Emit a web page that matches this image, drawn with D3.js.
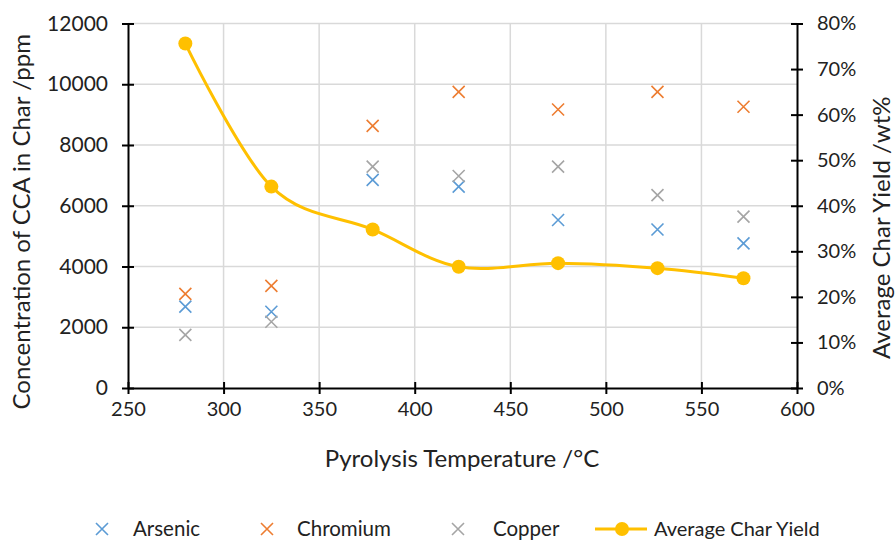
<!DOCTYPE html>
<html>
<head>
<meta charset="utf-8">
<script src="https://d3js.org/d3.v7.min.js"></script>
<style>
  body { margin: 0; background: #fff; }
  text { font-family: Lato, "Noto Sans", sans-serif; fill: #222; }
</style>
</head>
<body>
<script>
  // data
  var temps    = [280, 325, 378, 423, 475, 527, 572];
  var arsenic  = [2680, 2510, 6850, 6630, 5530, 5220, 4760];
  var chromium = [3100, 3360, 8630, 9750, 9170, 9750, 9260];
  var copper   = [1750, 2180, 7290, 6980, 7290, 6350, 5640];
  var charYield = [0.756, 0.442, 0.348, 0.266, 0.274, 0.263, 0.241];

  var xTicks = [250, 300, 350, 400, 450, 500, 550, 600];
  var yTicks = [0, 2000, 4000, 6000, 8000, 10000, 12000];
  var y2Ticks = [0, 0.1, 0.2, 0.3, 0.4, 0.5, 0.6, 0.7, 0.8];

  var width = 896, height = 540;
  var mLeft = 128, mRight = 797, mTop = 23.5, mBottom = 388;

  var svg = d3.select("body").append("svg")
    .attr("width", width)
    .attr("height", height);

  var x = d3.scaleLinear().domain([250, 600]).range([mLeft, mRight]);
  var y = d3.scaleLinear().domain([0, 12000]).range([mBottom, mTop]);
  var y2 = d3.scaleLinear().domain([0, 0.8]).range([mBottom, mTop]);

  // gridlines
  svg.append("g").selectAll("line")
    .data(yTicks.slice(1))
    .enter().append("line")
      .attr("x1", mLeft).attr("x2", mRight)
      .attr("y1", function(d){ return y(d); })
      .attr("y2", function(d){ return y(d); })
      .attr("stroke", "#d9d9d9").attr("stroke-width", 1.5);
  svg.append("g").selectAll("line")
    .data(xTicks.slice(1, -1))
    .enter().append("line")
      .attr("y1", mTop).attr("y2", mBottom)
      .attr("x1", function(d){ return x(d); })
      .attr("x2", function(d){ return x(d); })
      .attr("stroke", "#d9d9d9").attr("stroke-width", 1.5);

  // axes
  function styleAxis(g, fs) {
    g.selectAll("path").attr("stroke", "#000").attr("stroke-width", 2);
    g.selectAll("line").attr("stroke", "#000").attr("stroke-width", 2);
    g.selectAll("text").attr("font-size", fs).attr("fill", "#222")
      .style("font-family", "Lato, 'Noto Sans', sans-serif");
  }

  var xAxis = svg.append("g")
    .attr("transform", "translate(0," + mBottom + ")")
    .call(d3.axisBottom(x).tickValues(xTicks).tickSize(6).tickSizeOuter(0).tickPadding(8));
  styleAxis(xAxis, 20);
  xAxis.selectAll(".tick line").attr("y1", -6);

  var yAxis = svg.append("g")
    .attr("transform", "translate(" + mLeft + ",0)")
    .call(d3.axisLeft(y).tickValues(yTicks).tickSize(6).tickSizeOuter(0)
      .tickPadding(14).tickFormat(d3.format("d")));
  styleAxis(yAxis, 21);
  yAxis.selectAll(".tick line").attr("x1", 6);

  var y2Axis = svg.append("g")
    .attr("transform", "translate(" + mRight + ",0)")
    .call(d3.axisRight(y2).tickValues(y2Ticks).tickSize(6).tickSizeOuter(0)
      .tickPadding(14).tickFormat(d3.format(".0%")));
  styleAxis(y2Axis, 20);
  y2Axis.selectAll(".tick line").attr("x1", -6);

  // axis titles
  svg.append("text")
    .attr("x", 462).attr("y", 467)
    .attr("text-anchor", "middle").attr("font-size", 24)
    .text("Pyrolysis Temperature  /°C");
  svg.append("text")
    .attr("transform", "translate(30," + ((mTop + mBottom) / 2 + 16) + ") rotate(-90)")
    .attr("text-anchor", "middle").attr("font-size", 24)
    .text("Concentration of CCA in Char /ppm");
  svg.append("text")
    .attr("transform", "translate(890," + ((mTop + mBottom) / 2 + 22) + ") rotate(-90)")
    .attr("text-anchor", "middle").attr("font-size", 24)
    .text("Average Char Yield /wt%");

  // scatter series
  var series = [
    { name: "Arsenic", values: arsenic, color: "#5b9bd5" },
    { name: "Chromium", values: chromium, color: "#ed7d31" },
    { name: "Copper", values: copper, color: "#a5a5a5" }
  ];

  function cross(g, cx, cy, color) {
    var s = 6;
    g.append("path")
      .attr("d", "M" + (cx - s) + "," + (cy - s) + "L" + (cx + s) + "," + (cy + s) +
                 "M" + (cx - s) + "," + (cy + s) + "L" + (cx + s) + "," + (cy - s))
      .attr("stroke", color).attr("stroke-width", 1.6).attr("fill", "none");
  }

  series.forEach(function(s) {
    var g = svg.append("g");
    s.values.forEach(function(v, i) {
      cross(g, x(temps[i]), y(v), s.color);
    });
  });

  // char yield line
  var yieldData = temps.map(function(t, i){ return [t, charYield[i]]; });
  var line = d3.line()
    .x(function(d){ return x(d[0]); })
    .y(function(d){ return y2(d[1]); })
    .curve(d3.curveCardinal.tension(0));
  svg.append("path")
    .datum(yieldData)
    .attr("d", line)
    .attr("fill", "none")
    .attr("stroke", "#ffc000")
    .attr("stroke-width", 3);
  svg.append("g").selectAll("circle")
    .data(yieldData)
    .enter().append("circle")
      .attr("cx", function(d){ return x(d[0]); })
      .attr("cy", function(d){ return y2(d[1]); })
      .attr("r", 7)
      .attr("fill", "#ffc000");

  // legend
  var ly = 529;
  var legendItems = [
    { name: "Arsenic", color: "#5b9bd5", mx: 102, tx: 133 },
    { name: "Chromium", color: "#ed7d31", mx: 267, tx: 297 },
    { name: "Copper", color: "#a5a5a5", mx: 458, tx: 493 }
  ];
  var lg = svg.append("g");
  legendItems.forEach(function(it) {
    cross(lg, it.mx, ly, it.color);
    lg.append("text").attr("x", it.tx).attr("y", ly + 7)
      .attr("font-size", 20.5).text(it.name);
  });
  lg.append("line").attr("x1", 595).attr("x2", 647).attr("y1", ly).attr("y2", ly)
    .attr("stroke", "#ffc000").attr("stroke-width", 3);
  lg.append("circle").attr("cx", 622).attr("cy", ly).attr("r", 7).attr("fill", "#ffc000");
  lg.append("text").attr("x", 654).attr("y", ly + 7)
    .attr("font-size", 20).text("Average Char Yield");
</script>
</body>
</html>
